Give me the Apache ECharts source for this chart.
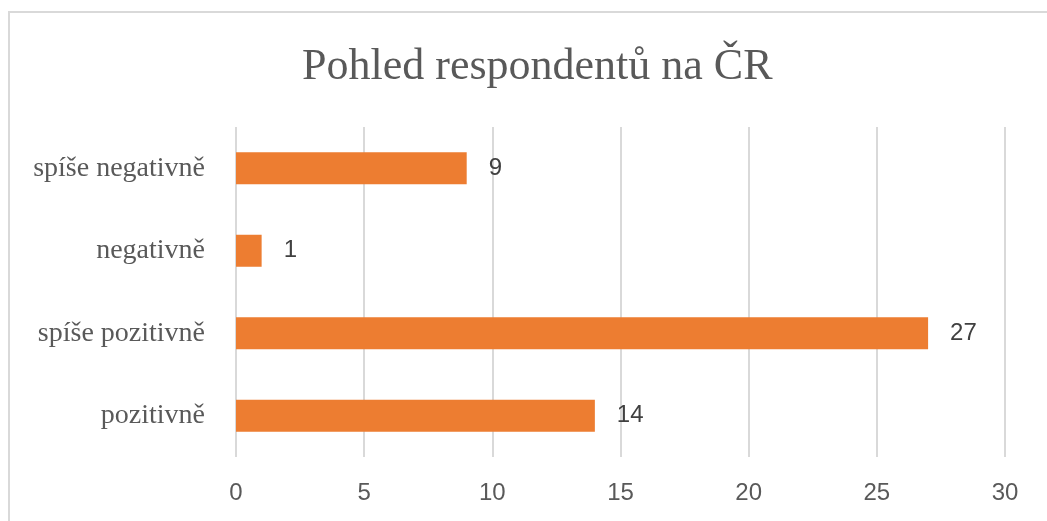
<!DOCTYPE html>
<html>
<head>
<meta charset="utf-8">
<script src="https://cdn.jsdelivr.net/npm/echarts@6/dist/echarts.min.js"></script>
<style>html,body{margin:0;padding:0;background:#fff}#c{width:1047px;height:521px}</style>
</head>
<body>
<div id="c"></div>
<script>
const titleText = 'Pohled respondentů na ČR';
const categories = ['pozitivně', 'spíše pozitivně', 'negativně', 'spíše negativně'];
const values = [14, 27, 1, 9];
const xTicks = [0, 5, 10, 15, 20, 25, 30];

const chart = echarts.init(document.getElementById('c'));
chart.setOption({
  animation: false,
  backgroundColor: '#fff',
  title: {
    text: titleText, left: 297, top: 40,
    textStyle: { fontFamily: 'Liberation Serif', fontSize: 44, fontWeight: 'normal', color: '#595959' }
  },
  graphic: [{
    type: 'rect', shape: { x: 9, y: 12, width: 1200, height: 700 },
    style: { fill: 'none', stroke: '#d9d9d9', lineWidth: 2 }, silent: true
  }],
  grid: { left: 236, right: 42, top: 127, bottom: 64 },
  xAxis: {
    type: 'value', min: xTicks[0], max: xTicks[xTicks.length - 1], interval: 5,
    axisLine: { show: false }, axisTick: { show: false },
    splitLine: { lineStyle: { color: '#d9d9d9', width: 2 } },
    axisLabel: { margin: 24, fontFamily: 'Liberation Sans', fontSize: 24, color: '#595959' }
  },
  yAxis: {
    type: 'category', data: categories,
    axisLine: { show: false }, axisTick: { show: false },
    axisLabel: { margin: 31, fontFamily: 'Liberation Serif', fontSize: 28, color: '#595959' }
  },
  series: [{
    type: 'bar', data: values, barWidth: 32,
    itemStyle: { color: '#ED7D31' },
    label: { show: true, position: 'right', distance: 22, fontFamily: 'Liberation Sans', fontSize: 24, color: '#404040' }
  }]
});
</script>
</body>
</html>
